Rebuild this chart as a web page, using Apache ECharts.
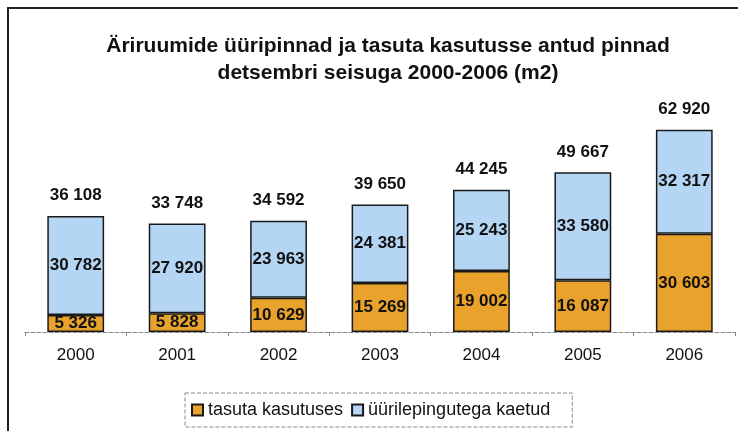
<!DOCTYPE html>
<html lang="et">
<head>
<meta charset="UTF-8">
<title>Äriruumide üüripinnad</title>
<script src="https://cdn.jsdelivr.net/npm/echarts@6/dist/echarts.min.js"></script>
<style>
  html, body { margin: 0; padding: 0; background: #fff; }
  #box { width: 738px; height: 431px; }
</style>
</head>
<body>
<div id="box"></div>
<script>
    // aastad
    var years = ['2000', '2001', '2002', '2003', '2004', '2005', '2006'];
    // tasuta kasutuses
    var tasuta = [5326, 5828, 10629, 15269, 19002, 16087, 30603];
    // üürilepingutega kaetud
    var yyr = [30782, 27920, 23963, 24381, 25243, 33580, 32317];
    // kokku (silt tulba kohal)
    var kokku = [36108, 33748, 34592, 39650, 44245, 49667, 62920];

    function fmt(v) {
        return String(v).replace(/\B(?=(\d{3})+(?!\d))/g, ' ');
    }

    var font = '"Liberation Sans", Arial, sans-serif';
    var myChart = echarts.init(document.getElementById('box'));

    var option = {
        animation: false,
        title: {
            text: 'Äriruumide üüripinnad ja tasuta kasutusse antud pinnad\ndetsembri seisuga 2000-2006 (m2)',
            left: 383,
            textAlign: 'center',
            top: 28,
            textStyle: { fontFamily: font, fontSize: 21, fontWeight: 'bold', color: '#111', lineHeight: 27 }
        },
        graphic: [{
            type: 'rect',
            shape: { x: 8, y: 8, width: 760, height: 460 },
            style: { fill: 'none', stroke: '#222', lineWidth: 2 }
        }],
        legend: {
            data: ['tasuta kasutuses', 'üürilepingutega kaetud'],
            left: 185,
            top: 393,
            icon: 'rect',
            itemWidth: 11,
            itemHeight: 11,
            itemGap: 8,
            padding: [8, 22, 8, 6],
            borderColor: '#888',
            borderWidth: 1,
            borderType: 'dashed',
            textStyle: { fontFamily: font, fontSize: 18, color: '#111' }
        },
        grid: { left: 25, right: 3, top: 107, bottom: 99 },
        xAxis: {
            type: 'category',
            data: years,
            axisLine: { lineStyle: { color: '#888', width: 1, type: 'dashed' } },
            axisTick: { show: true, length: 4, lineStyle: { color: '#888' } },
            axisLabel: { fontFamily: font, fontSize: 17, color: '#111', margin: 15 }
        },
        yAxis: {
            type: 'value',
            min: 0,
            max: 70000,
            show: false,
            splitLine: { show: false }
        },
        series: [{
            name: 'tasuta kasutuses',
            type: 'bar',
            stack: 'kokku',
            data: tasuta,
            barWidth: '56%',
            itemStyle: { color: '#E9A22C', borderColor: '#1a1a1a', borderWidth: 1.5 },
            label: {
                show: true, position: 'inside', formatter: function (p) { return fmt(p.value); },
                fontFamily: font, fontSize: 17, fontWeight: 'bold', color: '#111'
            }
        }, {
            name: 'üürilepingutega kaetud',
            type: 'bar',
            stack: 'kokku',
            data: yyr,
            itemStyle: { color: '#B5D5F5', borderColor: '#1a1a1a', borderWidth: 1.5 },
            label: {
                show: true, position: 'inside', formatter: function (p) { return fmt(p.value); },
                fontFamily: font, fontSize: 17, fontWeight: 'bold', color: '#111'
            }
        }, {
            name: 'kokku',
            type: 'bar',
            data: kokku,
            barWidth: '56%',
            barGap: '-100%',
            z: 1,
            silent: true,
            itemStyle: { color: 'rgba(0,0,0,0)' },
            label: {
                show: true, position: 'top', distance: 12, formatter: function (p) { return fmt(p.value); },
                fontFamily: font, fontSize: 17, fontWeight: 'bold', color: '#111'
            }
        }]
    };
    myChart.setOption(option);
</script>
</body>
</html>
